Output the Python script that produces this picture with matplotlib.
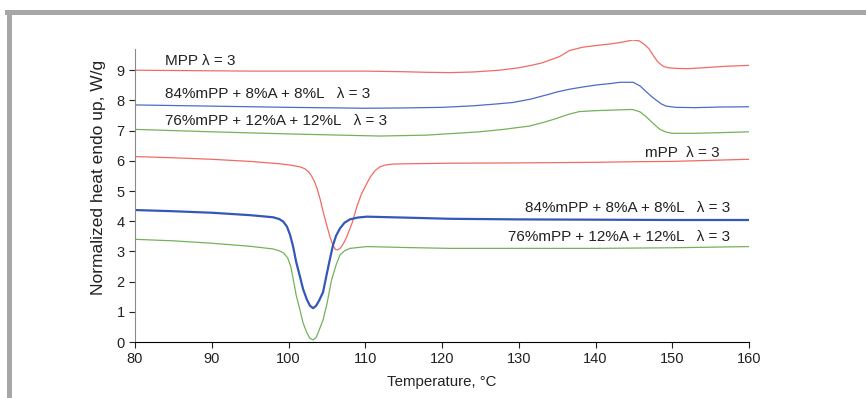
import matplotlib.pyplot as plt
from matplotlib.patches import Rectangle

plt.rcParams['font.family'] = ['Liberation Sans', 'DejaVu Sans']

# upper curves
mpp_x = [80, 85, 90, 95, 100, 105, 110, 115, 118, 121, 124, 127.5, 130, 131.8, 133, 134,
         135.3, 136.6, 138.3, 140.5, 142, 143.5, 144.9, 145.7, 146.4, 147, 147.5, 148.1,
         148.8, 149.5, 150.5, 152, 154, 157, 160]
mpp_y = [9.00, 8.99, 8.98, 8.97, 8.97, 8.97, 8.97, 8.95, 8.93, 8.92, 8.94, 9.0, 9.08, 9.17,
         9.24, 9.33, 9.45, 9.65, 9.76, 9.83, 9.87, 9.93, 10.0, 9.97, 9.85, 9.7, 9.5, 9.28,
         9.13, 9.08, 9.06, 9.05, 9.08, 9.13, 9.16]

b84_x = [80, 90, 100, 110, 115, 120, 124, 127, 129.2, 131.5, 133.6, 135, 136.6, 138.5, 140.1,
         142, 143.2, 144.9, 145.8, 146.6, 147.3, 147.9, 148.6, 149.2, 150.5, 153, 156, 160]
b84_y = [7.85, 7.81, 7.77, 7.74, 7.75, 7.77, 7.82, 7.88, 7.93, 8.04, 8.18, 8.28, 8.37, 8.45,
         8.51, 8.56, 8.6, 8.6, 8.48, 8.29, 8.13, 8.01, 7.88, 7.81, 7.77, 7.76, 7.78, 7.79]

g76_x = [80, 90, 100, 111.9, 118, 124.9, 128, 131.4, 133.2, 134.9, 136.5, 137.9, 140, 142.3,
         144.8, 145.8, 146.6, 147.5, 148.4, 149.2, 150, 153, 156, 160]
g76_y = [7.04, 6.96, 6.89, 6.82, 6.85, 6.96, 7.04, 7.15, 7.27, 7.4, 7.54, 7.63, 7.66, 7.68,
         7.7, 7.62, 7.46, 7.24, 7.04, 6.95, 6.91, 6.91, 6.93, 6.96]

# lower curves
mpp2_x = [80, 85, 90, 95, 98.9, 100.2, 101.5, 102.1, 102.6, 103.0, 103.4, 103.7, 104.1, 104.5,
          105, 105.4, 105.8, 106.1, 106.4, 106.8, 107.2, 107.6, 108.3, 108.9, 109.5, 110.2,
          110.7, 111.3, 111.9, 112.6, 113.5, 115, 121, 130, 140, 145.3, 150, 160]
mpp2_y = [6.14, 6.10, 6.05, 5.98, 5.90, 5.86, 5.80, 5.74, 5.64, 5.50, 5.30, 5.10, 4.75, 4.33,
          3.85, 3.48, 3.20, 3.07, 3.05, 3.12, 3.28, 3.49, 3.95, 4.48, 4.9, 5.25, 5.48, 5.68,
          5.80, 5.86, 5.89, 5.9, 5.92, 5.93, 5.95, 5.97, 5.98, 6.05]

b84b_x = [80, 85, 90, 95, 98.0, 98.8, 99.3, 99.8, 100.2, 100.6, 101, 101.5, 101.9, 102.4, 102.8,
          103.2, 103.6, 104, 104.5, 105, 105.4, 105.8, 106.2, 106.7, 107.3, 108, 109, 110.2,
          115, 121, 130, 140, 150, 160]
b84b_y = [4.37, 4.33, 4.28, 4.20, 4.13, 4.07, 3.99, 3.82, 3.55, 3.16, 2.65, 2.16, 1.75, 1.40,
          1.20, 1.12, 1.20, 1.38, 1.65, 2.27, 2.75, 3.21, 3.52, 3.76, 3.95, 4.06, 4.12, 4.15,
          4.12, 4.08, 4.06, 4.05, 4.04, 4.04]

g76b_x = [80, 85, 90, 95, 98.0, 98.8, 99.4, 99.9, 100.3, 100.6, 101, 101.5, 101.9, 102.4,
          102.8, 103.2, 103.6, 104, 104.5, 105, 105.6, 106.2, 106.7, 107.3, 108, 110.2, 115,
          121, 130, 140, 150, 160]
g76b_y = [3.40, 3.35, 3.27, 3.17, 3.08, 3.02, 2.94, 2.78, 2.50, 2.10, 1.55, 1.05, 0.63, 0.30,
          0.12, 0.07, 0.15, 0.40, 0.73, 1.25, 2.05, 2.55, 2.88, 3.02, 3.10, 3.16, 3.13, 3.10,
          3.10, 3.10, 3.12, 3.16]

red = '#f36a63'
blue = '#4a6cc4'
blue_dk = '#3358b8'
green = '#74b25a'

fig = plt.figure(figsize=(8.66, 3.98), dpi=100)
ax = fig.add_axes([0.1559, 0.1407, 0.709, 0.7588])

ax.plot(mpp_x, mpp_y, color=red, lw=0.9)
ax.plot(b84_x, b84_y, color=blue, lw=0.9)
ax.plot(g76_x, g76_y, color=green, lw=0.9)
ax.plot(mpp2_x, mpp2_y, color=red, lw=0.9)
ax.plot(b84b_x, b84b_y, color=blue_dk, lw=1.6)
ax.plot(g76b_x, g76b_y, color=green, lw=0.9)

ax.set_xlim(80, 160)
ax.set_ylim(0, 10)
ax.set_xticks(range(80, 161, 10))
ax.set_yticks(range(0, 10))
ax.spines['top'].set_visible(False)
ax.spines['right'].set_visible(False)
ax.spines['left'].set_bounds(0, 9.7)
ax.spines['left'].set_color('#8a8a8a')
ax.spines['bottom'].set_color('black')
ax.tick_params(labelsize=10.5, length=4, width=0.8, colors='#222222')

ax.set_xlabel('Temperature, °C', fontsize=10.8, color='#222222', labelpad=6)
ax.set_ylabel('Normalized heat endo up, W/g', fontsize=12.5, color='#222222')
ax.yaxis.set_label_coords(-0.048, 0.545)

tk = dict(fontsize=11, color='#222222', va='center')
ax.text(83.9, 9.3, 'MPP λ = 3', **tk)
ax.text(83.9, 8.21, '84%mPP + 8%A + 8%L   λ = 3', **tk)
ax.text(83.9, 7.33, '76%mPP + 12%A + 12%L   λ = 3', **tk)
ax.text(146.4, 6.25, 'mPP  λ = 3', **tk)
ax.text(157.5, 4.43, '84%mPP + 8%A + 8%L   λ = 3', ha='right', **tk)
ax.text(157.5, 3.49, '76%mPP + 12%A + 12%L   λ = 3', ha='right', **tk)

# gray page frame
W, H = 866, 398
fig.add_artist(Rectangle((5 / W, 1 - 15 / H), 1, 5 / H, transform=fig.transFigure,
                         color='#a7a7a9', lw=0))
fig.add_artist(Rectangle((7 / W, 0), 5 / W, 1 - 10 / H, transform=fig.transFigure,
                         color='#a7a7a9', lw=0))

plt.savefig('out.png', dpi=100)
